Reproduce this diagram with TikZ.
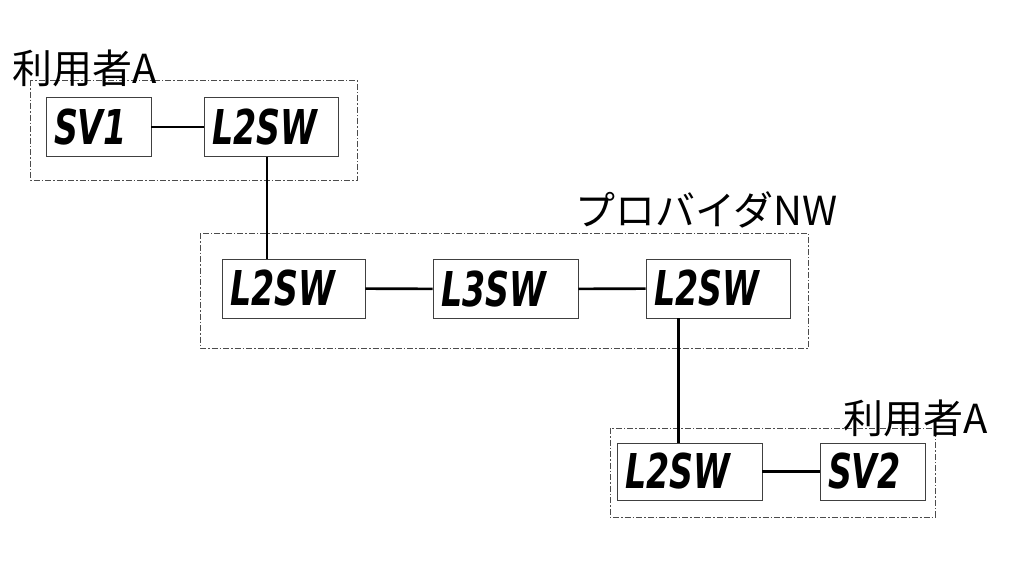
\documentclass[tikz,border=0pt]{standalone}
\usepackage{fontspec}
\newfontfamily\jpfont{Noto Sans CJK JP}
\newfontfamily\boxfont{DejaVu Sans Condensed}
\usetikzlibrary{positioning}
\tikzstyle{device}=[draw=black!75,line width=0.8pt,minimum height=59pt,inner ysep=0pt,inner xsep=8pt,align=left,font=\boxfont\bfseries\fontsize{48}{48}\selectfont]
\tikzstyle{area}=[draw=black!70,line width=0.7pt,dash pattern=on 6pt off 2pt on 1.5pt off 2pt]
\tikzstyle{areaname}=[inner sep=0pt,font=\jpfont\fontsize{40}{40}\selectfont]
\tikzstyle{link}=[line width=2.6pt]
\newcommand{\dev}[1]{\scalebox{0.77}[1]{\itshape #1}}

\begin{document}
\begin{tikzpicture}[x=1pt,y=-1pt]
\useasboundingbox (0,0) rectangle (1024,576);
% areas
\draw[area] (30,80) rectangle (357,180);
\draw[area] (200,233) rectangle (808,348);
\draw[area] (610,428) rectangle (935,517);
\node[areaname,anchor=west] (usera) at (12,68) {利用者A};
\node[areaname,anchor=east] (provider) at (838,210) {プロバイダNW};
\node[areaname,anchor=east] (userb) at (988,418) {利用者A};
% devices
\node[device,text width=89pt] (sv1) at (98.5,127) {\dev{SV1}};
\node[device,text width=118pt] (l2swa) at (271,127) {\dev{L2SW}};
\node[device,text width=127pt] (l2swb) at (293.5,288.5) {\dev{L2SW}};
\node[device,text width=129pt] (l3sw) at (505.5,289) {\dev{L3SW}};
\node[device,text width=128pt] (l2swc) at (718,288.5) {\dev{L2SW}};
\node[device,text width=129pt,minimum height=57pt] (l2swd) at (689.5,471.5) {\dev{L2SW}};
\node[device,text width=89pt,minimum height=57pt] (sv2) at (872.5,471.5) {\dev{SV2}};
% links
\draw[link] (sv1) -- (l2swa);
\draw[link] ([xshift=-4pt]l2swa.south) -- ([xshift=-4pt]l2swa.south |- l2swb.north);
\draw[link] (l2swb) -- (l3sw);
\draw[link] (l3sw) -- (l2swc);
\draw[link] ([xshift=33pt]l2swc.south west) -- ([xshift=33pt]l2swc.south west |- l2swd.north);
\draw[link] (l2swd) -- (sv2);
\end{tikzpicture}
\end{document}
